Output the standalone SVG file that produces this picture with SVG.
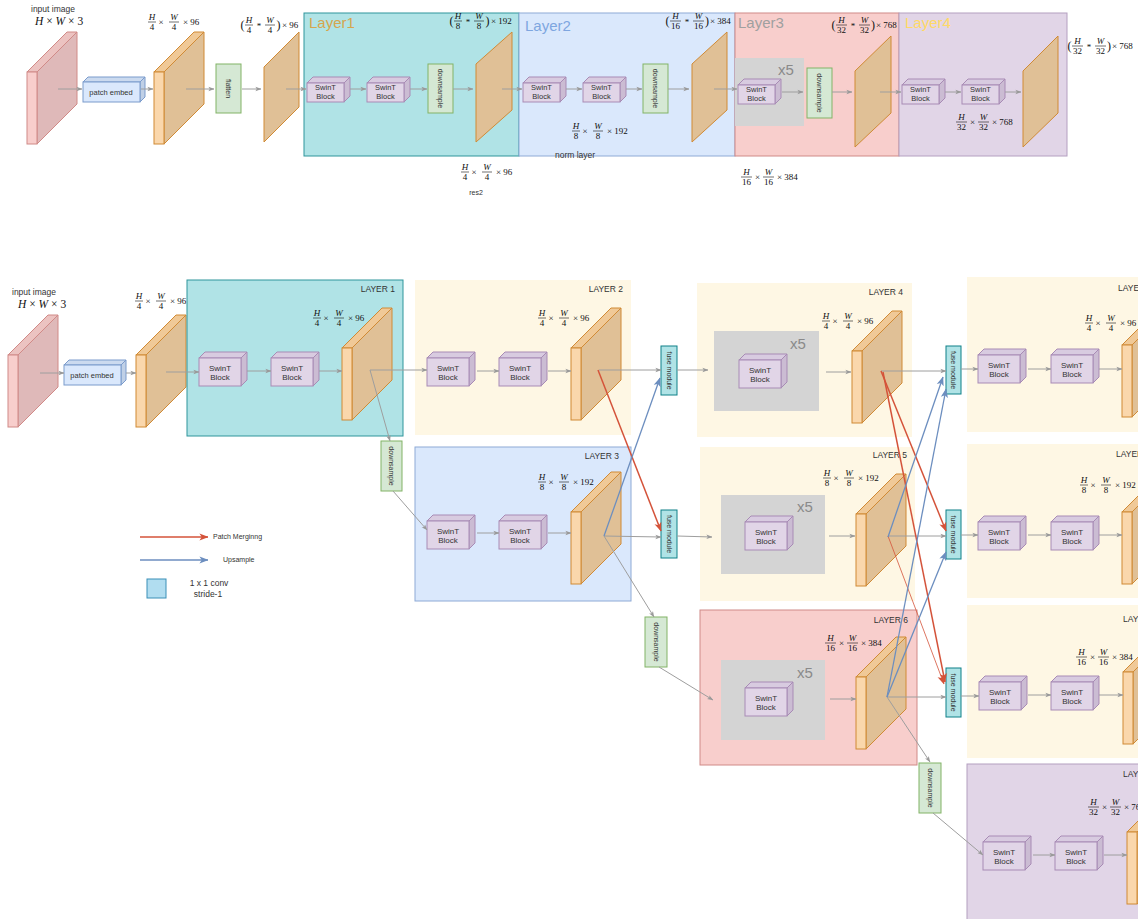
<svg xmlns="http://www.w3.org/2000/svg" xmlns:xlink="http://www.w3.org/1999/xlink" width="1138" height="919" viewBox="0 0 1138 919">
<style>
  .sans{font-family:"Liberation Sans",Arial,sans-serif;fill:#333}
  .lbl{font-family:"Liberation Sans",Arial,sans-serif;font-size:8.5px;fill:#333}
  .bt{font-family:"Liberation Sans",Arial,sans-serif;font-size:8px;fill:#333;text-anchor:middle}
  .bts{font-family:"Liberation Sans",Arial,sans-serif;font-size:7.5px;fill:#333;text-anchor:middle}
  .vt{font-family:"Liberation Sans",Arial,sans-serif;font-size:7px;fill:#333;text-anchor:middle}
  .lay{font-family:"Liberation Sans",Arial,sans-serif;font-size:8.5px;fill:#333;text-anchor:end}
  .layc{font-family:"Liberation Sans",Arial,sans-serif;font-size:8.5px;fill:#333}
  .title{font-family:"Liberation Sans",Arial,sans-serif;font-size:15px}
  .x5{font-family:"Liberation Sans",Arial,sans-serif;font-size:15px;fill:#8a8a8a}
  .m text{font-family:"Liberation Serif","Times New Roman",serif;font-size:9px;fill:#111;text-anchor:middle}
  .m .i{font-style:italic}
  .m .p{font-size:12px}
  .m path{stroke:#111;stroke-width:0.6;fill:none}
  .mm{font-family:"Liberation Serif","Times New Roman",serif;font-size:11.5px;fill:#111}
  .green{fill:#d5e8d4;stroke:#82b366;stroke-width:1}
  .fuse{fill:#b0e3e6;stroke:#0e8088;stroke-width:1}
  .gray{fill:#d4d4d4}
  .cream{fill:#fef7e4}
  .flat{fill:#e0c096;stroke:#d08a35;stroke-width:1}
  .conn path{fill:none;stroke:#9e9e9e;stroke-width:1}
  .conn path.red{stroke:#d4533a;stroke-width:1.5}
  .conn path.redt{stroke:#d4533a;stroke-width:0.8}
  .conn path.blue{stroke:#6c8ebf;stroke-width:1.3}
</style>
<defs>
  <marker id="ag" viewBox="0 0 8 8" refX="7.5" refY="4" markerWidth="6" markerHeight="6" markerUnits="userSpaceOnUse" orient="auto">
    <path d="M0,1 L8,4 L0,7 L2,4Z" fill="#9a9a9a"/>
  </marker>
  <marker id="ar" viewBox="0 0 10 10" refX="9.5" refY="5" markerWidth="9" markerHeight="9" markerUnits="userSpaceOnUse" orient="auto">
    <path d="M0,1 L10,5 L0,9 L2.5,5Z" fill="#d4533a"/>
  </marker>
  <marker id="ab" viewBox="0 0 10 10" refX="9.5" refY="5" markerWidth="9" markerHeight="9" markerUnits="userSpaceOnUse" orient="auto">
    <path d="M0,1 L10,5 L0,9 L2.5,5Z" fill="#6c8ebf"/>
  </marker>
  <!-- feature map slab: thin front face, deep side -->
  <g id="slabO">
    <path d="M0,0 L40,-40 L50,-40 L10,0Z" fill="#f0c997" stroke="#d08a35" stroke-width="1"/>
    <path d="M10,0 L50,-40 L50,32 L10,72Z" fill="#e0c096" stroke="#d08a35" stroke-width="1"/>
    <rect x="0" y="0" width="10" height="72" fill="#fad7ac" stroke="#d08a35" stroke-width="1"/>
  </g>
  <g id="slabR">
    <path d="M0,0 L40,-40 L50,-40 L10,0Z" fill="#ecc3c1" stroke="#d08a87" stroke-width="1"/>
    <path d="M10,0 L50,-40 L50,32 L10,72Z" fill="#dfb9b9" stroke="#d08a87" stroke-width="1"/>
    <rect x="0" y="0" width="10" height="72" fill="#f8cecc" stroke="#d08a87" stroke-width="1"/>
  </g>
  <!-- transformer block cubes -->
  <g id="blkS">
    <path d="M0,6 L6,0 L43,0 L37,6Z" fill="#d8cbe0" stroke="#a88bb5" stroke-width="1"/>
    <path d="M37,6 L43,0 L43,19 L37,25Z" fill="#cbbcd3" stroke="#a88bb5" stroke-width="1"/>
    <rect x="0" y="6" width="37" height="19" fill="#e1d5e7" stroke="#a88bb5" stroke-width="1"/>
  </g>
  <g id="blkL">
    <path d="M0,6 L6,0 L48,0 L42,6Z" fill="#d8cbe0" stroke="#a88bb5" stroke-width="1"/>
    <path d="M42,6 L48,0 L48,28 L42,34Z" fill="#cbbcd3" stroke="#a88bb5" stroke-width="1"/>
    <rect x="0" y="6" width="42" height="28" fill="#e1d5e7" stroke="#a88bb5" stroke-width="1"/>
  </g>
  <g id="embed">
    <path d="M0,5 L5,0 L62,0 L57,5Z" fill="#cbdaef" stroke="#7b9bcc" stroke-width="1"/>
    <path d="M57,5 L62,0 L62,20 L57,25Z" fill="#c0d0e6" stroke="#7b9bcc" stroke-width="1"/>
    <rect x="0" y="5" width="57" height="20" fill="#dae8fc" stroke="#7b9bcc" stroke-width="1"/>
  </g>
</defs>

<rect width="1138" height="919" fill="#ffffff"/>

<!-- ===================== upper pipeline ===================== -->
<g id="top-input">
  <text class="lbl" x="31" y="12">input image</text>
  <text class="mm" x="35" y="25"><tspan font-style="italic">H</tspan> × <tspan font-style="italic">W</tspan> × 3</text>
  <use href="#slabR" x="27" y="72"/>
</g>
<g id="top-embed">
  <use href="#embed" x="83" y="77"/>
  <text class="bts" x="111" y="94.5">patch embed</text>
</g>
<g id="top-feat">
  <use href="#slabO" x="154" y="72"/>
  <g class="m" transform="translate(148,22)"><text><tspan class="i" x="4" y="-2">H</tspan><tspan x="4" y="7.5">4</tspan><tspan x="13" y="2.5">×</tspan><tspan class="i" x="26" y="-2">W</tspan><tspan x="26" y="7.5">4</tspan><tspan x="43.2" y="2.5">× 96</tspan></text><path d="M0,0h8M21,0h10"/></g>
</g>
<g id="top-flatten">
  <rect class="green" x="216" y="64" width="25" height="49"/>
  <text class="vt" transform="translate(228.5,88.5) rotate(90)" y="2.5">flatten</text>
</g>
<g id="top-tokens">
  <path class="flat" d="M264,67 L299,32 L299,107 L264,142Z"/>
  <g class="m" transform="translate(241,25)"><text><tspan class="p" x="1.5" y="4">(</tspan><tspan class="i" x="8" y="-2">H</tspan><tspan x="8" y="7.5">4</tspan><tspan x="18" y="4">*</tspan><tspan class="i" x="29" y="-2">W</tspan><tspan x="29" y="7.5">4</tspan><tspan class="p" x="37.5" y="4">)</tspan><tspan x="49.2" y="2.5">× 96</tspan></text><path d="M4,0h8M24,0h10"/></g>
</g>

<g id="top-layer1">
  <rect x="304" y="13" width="215" height="143" fill="#b0e3e6" stroke="#2f959b" stroke-width="1"/>
  <text class="title" x="309" y="28" fill="#d6a64f">Layer1</text>
  <g transform="translate(307,77)"><use href="#blkS"/><text class="bts" x="18.5" y="13">SwinT</text><text class="bts" x="18.5" y="22">Block</text></g>
  <g transform="translate(367,77)"><use href="#blkS"/><text class="bts" x="18.5" y="13">SwinT</text><text class="bts" x="18.5" y="22">Block</text></g>
  <rect class="green" x="428" y="64" width="25" height="49"/>
  <text class="vt" transform="translate(440.5,88.5) rotate(90)" y="2.5">downsample</text>
  <path class="flat" d="M476,64 L512,32 L512,110 L476,142Z"/>
  <g class="m" transform="translate(450,21)"><text><tspan class="p" x="1.5" y="4">(</tspan><tspan class="i" x="8" y="-2">H</tspan><tspan x="8" y="7.5">8</tspan><tspan x="18" y="4">*</tspan><tspan class="i" x="29" y="-2">W</tspan><tspan x="29" y="7.5">8</tspan><tspan class="p" x="37.5" y="4">)</tspan><tspan x="51.4" y="2.5">× 192</tspan></text><path d="M4,0h8M24,0h10"/></g>
</g>

<g id="top-layer2">
  <rect x="519" y="13" width="216" height="143" fill="#dae8fc" stroke="#8eaad6" stroke-width="1"/>
  <text class="title" x="525" y="31" fill="#7ea6e0">Layer2</text>
  <g transform="translate(523,77)"><use href="#blkS"/><text class="bts" x="18.5" y="13">SwinT</text><text class="bts" x="18.5" y="22">Block</text></g>
  <g transform="translate(583,77)"><use href="#blkS"/><text class="bts" x="18.5" y="13">SwinT</text><text class="bts" x="18.5" y="22">Block</text></g>
  <rect class="green" x="643" y="64" width="25" height="49"/>
  <text class="vt" transform="translate(655.5,88.5) rotate(90)" y="2.5">downsample</text>
  <path class="flat" d="M692,64 L727,32 L727,110 L692,142Z"/>
  <g class="m" transform="translate(666,21)"><text><tspan class="p" x="1.5" y="4">(</tspan><tspan class="i" x="9.5" y="-2">H</tspan><tspan x="9.5" y="7.5">16</tspan><tspan x="21" y="4">*</tspan><tspan class="i" x="32.5" y="-2">W</tspan><tspan x="32.5" y="7.5">16</tspan><tspan class="p" x="41" y="4">)</tspan><tspan x="54.4" y="2.5">× 384</tspan></text><path d="M4,0h11M27,0h11"/></g>
  <g class="m" transform="translate(572,131)"><text><tspan class="i" x="4" y="-2">H</tspan><tspan x="4" y="7.5">8</tspan><tspan x="13" y="2.5">×</tspan><tspan class="i" x="26" y="-2">W</tspan><tspan x="26" y="7.5">8</tspan><tspan x="45.4" y="2.5">× 192</tspan></text><path d="M0,0h8M21,0h10"/></g>
  <text class="lbl" x="575" y="158" text-anchor="middle">norm layer</text>
</g>

<g id="top-layer3">
  <rect x="735" y="13" width="164" height="143" fill="#f8cecc" stroke="#d08a87" stroke-width="1"/>
  <rect class="gray" x="735" y="58" width="69" height="68"/>
  <text class="title" x="738" y="28" fill="#a0a0a0">Layer3</text>
  <text class="x5" x="778" y="75">x5</text>
  <g transform="translate(738,79)"><use href="#blkS"/><text class="bts" x="18.5" y="13">SwinT</text><text class="bts" x="18.5" y="22">Block</text></g>
  <rect class="green" x="807" y="68" width="25" height="50"/>
  <text class="vt" transform="translate(819.5,93) rotate(90)" y="2.5">downsample</text>
  <path class="flat" d="M855,71 L891,36 L891,113 L855,147Z"/>
  <g class="m" transform="translate(832,25)"><text><tspan class="p" x="1.5" y="4">(</tspan><tspan class="i" x="9.5" y="-2">H</tspan><tspan x="9.5" y="7.5">32</tspan><tspan x="21" y="4">*</tspan><tspan class="i" x="32.5" y="-2">W</tspan><tspan x="32.5" y="7.5">32</tspan><tspan class="p" x="41" y="4">)</tspan><tspan x="54.4" y="2.5">× 768</tspan></text><path d="M4,0h11M27,0h11"/></g>
</g>

<g id="top-layer4">
  <rect x="899" y="13" width="168" height="143" fill="#e1d5e7" stroke="#b49fc0" stroke-width="1"/>
  <text class="title" x="905" y="28" fill="#ffd966">Layer4</text>
  <g transform="translate(902,79)"><use href="#blkS"/><text class="bts" x="18.5" y="13">SwinT</text><text class="bts" x="18.5" y="22">Block</text></g>
  <g transform="translate(962,79)"><use href="#blkS"/><text class="bts" x="18.5" y="13">SwinT</text><text class="bts" x="18.5" y="22">Block</text></g>
  <path class="flat" d="M1023,71 L1058,36 L1058,113 L1023,147Z"/>
  <g class="m" transform="translate(956,122)"><text><tspan class="i" x="5.5" y="-2">H</tspan><tspan x="5.5" y="7.5">32</tspan><tspan x="16.5" y="2.5">×</tspan><tspan class="i" x="27.5" y="-2">W</tspan><tspan x="27.5" y="7.5">32</tspan><tspan x="46.4" y="2.5">× 768</tspan></text><path d="M0,0h11M22,0h11"/></g>
</g>

<g id="top-out">
  <g class="m" transform="translate(1068,46)"><text><tspan class="p" x="1.5" y="4">(</tspan><tspan class="i" x="9.5" y="-2">H</tspan><tspan x="9.5" y="7.5">32</tspan><tspan x="21" y="4">*</tspan><tspan class="i" x="32.5" y="-2">W</tspan><tspan x="32.5" y="7.5">32</tspan><tspan class="p" x="41" y="4">)</tspan><tspan x="54.4" y="2.5">× 768</tspan></text><path d="M4,0h11M27,0h11"/></g>
</g>

<g id="top-res2">
  <g class="m" transform="translate(461,172)"><text><tspan class="i" x="4" y="-2">H</tspan><tspan x="4" y="7.5">4</tspan><tspan x="13" y="2.5">×</tspan><tspan class="i" x="26" y="-2">W</tspan><tspan x="26" y="7.5">4</tspan><tspan x="43.2" y="2.5">× 96</tspan></text><path d="M0,0h8M21,0h10"/></g>
  <text class="sans" x="476" y="195" font-size="7" text-anchor="middle">res2</text>
</g>
<g id="top-res4">
  <g class="m" transform="translate(741,177)"><text><tspan class="i" x="5.5" y="-2">H</tspan><tspan x="5.5" y="7.5">16</tspan><tspan x="16.5" y="2.5">×</tspan><tspan class="i" x="27.5" y="-2">W</tspan><tspan x="27.5" y="7.5">16</tspan><tspan x="46.4" y="2.5">× 384</tspan></text><path d="M0,0h11M22,0h11"/></g>
</g>

<!-- ===================== lower multi-branch pipeline ===================== -->
<g id="input">
  <text class="lbl" x="12" y="295">input image</text>
  <text class="mm" x="18" y="308"><tspan font-style="italic">H</tspan> × <tspan font-style="italic">W</tspan> × 3</text>
  <use href="#slabR" x="8" y="355"/>
</g>
<g id="patch-embed">
  <use href="#embed" x="64" y="360"/>
  <text class="bts" x="92" y="378">patch embed</text>
</g>
<g id="embed-out">
  <use href="#slabO" x="136" y="355"/>
  <g class="m" transform="translate(135,301)"><text><tspan class="i" x="4" y="-2">H</tspan><tspan x="4" y="7.5">4</tspan><tspan x="13" y="2.5">×</tspan><tspan class="i" x="26" y="-2">W</tspan><tspan x="26" y="7.5">4</tspan><tspan x="43.2" y="2.5">× 96</tspan></text><path d="M0,0h8M21,0h10"/></g>
</g>

<g id="layer1">
  <rect x="187" y="280" width="216" height="156" fill="#b0e3e6" stroke="#2f959b" stroke-width="1"/>
  <text class="lay" x="395" y="292">LAYER 1</text>
  <g transform="translate(199,352)"><use href="#blkL"/><text class="bt" x="21" y="18.5">SwinT</text><text class="bt" x="21" y="28">Block</text></g>
  <g transform="translate(271,352)"><use href="#blkL"/><text class="bt" x="21" y="18.5">SwinT</text><text class="bt" x="21" y="28">Block</text></g>
  <use href="#slabO" x="342" y="348"/>
  <g class="m" transform="translate(313,318)"><text><tspan class="i" x="4" y="-2">H</tspan><tspan x="4" y="7.5">4</tspan><tspan x="13" y="2.5">×</tspan><tspan class="i" x="26" y="-2">W</tspan><tspan x="26" y="7.5">4</tspan><tspan x="43.2" y="2.5">× 96</tspan></text><path d="M0,0h8M21,0h10"/></g>
</g>

<g id="layer2">
  <rect class="cream" x="415" y="280" width="216" height="155"/>
  <text class="lay" x="623" y="292">LAYER 2</text>
  <g transform="translate(427,352)"><use href="#blkL"/><text class="bt" x="21" y="18.5">SwinT</text><text class="bt" x="21" y="28">Block</text></g>
  <g transform="translate(499,352)"><use href="#blkL"/><text class="bt" x="21" y="18.5">SwinT</text><text class="bt" x="21" y="28">Block</text></g>
  <use href="#slabO" x="571" y="348"/>
  <g class="m" transform="translate(538,318)"><text><tspan class="i" x="4" y="-2">H</tspan><tspan x="4" y="7.5">4</tspan><tspan x="13" y="2.5">×</tspan><tspan class="i" x="26" y="-2">W</tspan><tspan x="26" y="7.5">4</tspan><tspan x="43.2" y="2.5">× 96</tspan></text><path d="M0,0h8M21,0h10"/></g>
</g>

<g id="layer3">
  <rect x="415" y="447" width="216" height="154" fill="#dae8fc" stroke="#8eaad6" stroke-width="1"/>
  <text class="lay" x="619" y="459">LAYER 3</text>
  <g transform="translate(427,515)"><use href="#blkL"/><text class="bt" x="21" y="18.5">SwinT</text><text class="bt" x="21" y="28">Block</text></g>
  <g transform="translate(499,515)"><use href="#blkL"/><text class="bt" x="21" y="18.5">SwinT</text><text class="bt" x="21" y="28">Block</text></g>
  <use href="#slabO" x="571" y="512"/>
  <g class="m" transform="translate(538,482)"><text><tspan class="i" x="4" y="-2">H</tspan><tspan x="4" y="7.5">8</tspan><tspan x="13" y="2.5">×</tspan><tspan class="i" x="26" y="-2">W</tspan><tspan x="26" y="7.5">8</tspan><tspan x="45.4" y="2.5">× 192</tspan></text><path d="M0,0h8M21,0h10"/></g>
</g>

<g id="downsample-1">
  <rect class="green" x="381" y="441" width="21" height="50"/>
  <text class="vt" transform="translate(391.5,466) rotate(90)" y="2.5">downsample</text>
</g>
<g id="downsample-2">
  <rect class="green" x="645" y="617" width="22" height="50"/>
  <text class="vt" transform="translate(656,642) rotate(90)" y="2.5">downsample</text>
</g>
<g id="downsample-3">
  <rect class="green" x="919" y="763" width="22" height="50"/>
  <text class="vt" transform="translate(930,788) rotate(90)" y="2.5">downsample</text>
</g>

<g id="fuse-1">
  <rect class="fuse" x="661" y="346" width="16" height="49"/>
  <text class="vt" transform="translate(669,370.5) rotate(90)" y="2.5">fuse module</text>
</g>
<g id="fuse-2">
  <rect class="fuse" x="661" y="510" width="16" height="48"/>
  <text class="vt" transform="translate(669,534) rotate(90)" y="2.5">fuse module</text>
</g>

<g id="layer4">
  <rect class="cream" x="697" y="283" width="215" height="154"/>
  <text class="lay" x="903" y="295">LAYER 4</text>
  <rect class="gray" x="714" y="331" width="105" height="80"/>
  <text class="x5" x="790" y="349">x5</text>
  <g transform="translate(739,354)"><use href="#blkL"/><text class="bt" x="21" y="18.5">SwinT</text><text class="bt" x="21" y="28">Block</text></g>
  <use href="#slabO" x="852" y="351"/>
  <g class="m" transform="translate(822,321)"><text><tspan class="i" x="4" y="-2">H</tspan><tspan x="4" y="7.5">4</tspan><tspan x="13" y="2.5">×</tspan><tspan class="i" x="26" y="-2">W</tspan><tspan x="26" y="7.5">4</tspan><tspan x="43.2" y="2.5">× 96</tspan></text><path d="M0,0h8M21,0h10"/></g>
</g>

<g id="layer5">
  <rect class="cream" x="700" y="447" width="215" height="154"/>
  <text class="lay" x="907" y="458">LAYER 5</text>
  <rect class="gray" x="721" y="495" width="104" height="79"/>
  <text class="x5" x="797" y="512">x5</text>
  <g transform="translate(745,516)"><use href="#blkL"/><text class="bt" x="21" y="18.5">SwinT</text><text class="bt" x="21" y="28">Block</text></g>
  <use href="#slabO" x="856" y="514"/>
  <g class="m" transform="translate(823,478)"><text><tspan class="i" x="4" y="-2">H</tspan><tspan x="4" y="7.5">8</tspan><tspan x="13" y="2.5">×</tspan><tspan class="i" x="26" y="-2">W</tspan><tspan x="26" y="7.5">8</tspan><tspan x="45.4" y="2.5">× 192</tspan></text><path d="M0,0h8M21,0h10"/></g>
</g>

<g id="layer6">
  <rect x="700" y="610" width="217" height="155" fill="#f8cecc" stroke="#d08a87" stroke-width="1"/>
  <text class="lay" x="908" y="623">LAYER 6</text>
  <rect class="gray" x="721" y="660" width="104" height="80"/>
  <text class="x5" x="797" y="678">x5</text>
  <g transform="translate(745,682)"><use href="#blkL"/><text class="bt" x="21" y="18.5">SwinT</text><text class="bt" x="21" y="28">Block</text></g>
  <use href="#slabO" x="856" y="677"/>
  <g class="m" transform="translate(825,643)"><text><tspan class="i" x="5.5" y="-2">H</tspan><tspan x="5.5" y="7.5">16</tspan><tspan x="16.5" y="2.5">×</tspan><tspan class="i" x="27.5" y="-2">W</tspan><tspan x="27.5" y="7.5">16</tspan><tspan x="46.4" y="2.5">× 384</tspan></text><path d="M0,0h11M22,0h11"/></g>
</g>

<g id="fuse-3">
  <rect class="fuse" x="946" y="346" width="15" height="48"/>
  <text class="vt" transform="translate(953.5,370) rotate(90)" y="2.5">fuse module</text>
</g>
<g id="fuse-4">
  <rect class="fuse" x="946" y="510" width="15" height="49"/>
  <text class="vt" transform="translate(953.5,534.5) rotate(90)" y="2.5">fuse module</text>
</g>
<g id="fuse-5">
  <rect class="fuse" x="946" y="668" width="15" height="49"/>
  <text class="vt" transform="translate(953.5,692.5) rotate(90)" y="2.5">fuse module</text>
</g>

<g id="layer7">
  <rect class="cream" x="967" y="277" width="180" height="155"/>
  <text class="layc" x="1118" y="291">LAYER</text>
  <g transform="translate(978,349)"><use href="#blkL"/><text class="bt" x="21" y="18.5">SwinT</text><text class="bt" x="21" y="28">Block</text></g>
  <g transform="translate(1051,349)"><use href="#blkL"/><text class="bt" x="21" y="18.5">SwinT</text><text class="bt" x="21" y="28">Block</text></g>
  <use href="#slabO" x="1122" y="345"/>
  <g class="m" transform="translate(1085,323)"><text><tspan class="i" x="4" y="-2">H</tspan><tspan x="4" y="7.5">4</tspan><tspan x="13" y="2.5">×</tspan><tspan class="i" x="26" y="-2">W</tspan><tspan x="26" y="7.5">4</tspan><tspan x="43.2" y="2.5">× 96</tspan></text><path d="M0,0h8M21,0h10"/></g>
</g>

<g id="layer8">
  <rect class="cream" x="967" y="444" width="180" height="154"/>
  <text class="layc" x="1116" y="457">LAYER</text>
  <g transform="translate(978,516)"><use href="#blkL"/><text class="bt" x="21" y="18.5">SwinT</text><text class="bt" x="21" y="28">Block</text></g>
  <g transform="translate(1051,516)"><use href="#blkL"/><text class="bt" x="21" y="18.5">SwinT</text><text class="bt" x="21" y="28">Block</text></g>
  <use href="#slabO" x="1122" y="512"/>
  <g class="m" transform="translate(1080,485)"><text><tspan class="i" x="4" y="-2">H</tspan><tspan x="4" y="7.5">8</tspan><tspan x="13" y="2.5">×</tspan><tspan class="i" x="26" y="-2">W</tspan><tspan x="26" y="7.5">8</tspan><tspan x="45.4" y="2.5">× 192</tspan></text><path d="M0,0h8M21,0h10"/></g>
</g>

<g id="layer9">
  <rect class="cream" x="967" y="605" width="180" height="153"/>
  <text class="layc" x="1123" y="622">LAYER</text>
  <g transform="translate(979,676)"><use href="#blkL"/><text class="bt" x="21" y="18.5">SwinT</text><text class="bt" x="21" y="28">Block</text></g>
  <g transform="translate(1051,676)"><use href="#blkL"/><text class="bt" x="21" y="18.5">SwinT</text><text class="bt" x="21" y="28">Block</text></g>
  <use href="#slabO" x="1123" y="672"/>
  <g class="m" transform="translate(1076,657)"><text><tspan class="i" x="5.5" y="-2">H</tspan><tspan x="5.5" y="7.5">16</tspan><tspan x="16.5" y="2.5">×</tspan><tspan class="i" x="27.5" y="-2">W</tspan><tspan x="27.5" y="7.5">16</tspan><tspan x="46.4" y="2.5">× 384</tspan></text><path d="M0,0h11M22,0h11"/></g>
</g>

<g id="layer10">
  <rect x="967" y="764" width="180" height="160" fill="#e1d5e7" stroke="#b49fc0" stroke-width="1"/>
  <text class="layc" x="1123" y="777">LAYER</text>
  <g transform="translate(983,836)"><use href="#blkL"/><text class="bt" x="21" y="18.5">SwinT</text><text class="bt" x="21" y="28">Block</text></g>
  <g transform="translate(1055,836)"><use href="#blkL"/><text class="bt" x="21" y="18.5">SwinT</text><text class="bt" x="21" y="28">Block</text></g>
  <use href="#slabO" x="1127" y="832"/>
  <g class="m" transform="translate(1088,807)"><text><tspan class="i" x="5.5" y="-2">H</tspan><tspan x="5.5" y="7.5">32</tspan><tspan x="16.5" y="2.5">×</tspan><tspan class="i" x="27.5" y="-2">W</tspan><tspan x="27.5" y="7.5">32</tspan><tspan x="46.4" y="2.5">× 768</tspan></text><path d="M0,0h11M22,0h11"/></g>
</g>

<g id="legend">
  <text class="sans" x="213" y="539" font-size="7">Patch Merginng</text>
  <text class="sans" x="223" y="562" font-size="7">Upsample</text>
  <rect x="147" y="579" width="19" height="19" fill="#b1ddf0" stroke="#3a8fb7" stroke-width="1"/>
  <text class="sans" x="209" y="586" font-size="8.5" text-anchor="middle">1 x 1 conv</text>
  <text class="sans" x="208" y="597" font-size="8.5" text-anchor="middle">stride-1</text>
</g>

<!-- ===================== connectors ===================== -->
<g id="connectors" class="conn">
  <!-- upper pipeline -->
  <path d="M58,89H82" marker-end="url(#ag)"/>
  <path d="M141,89H153" marker-end="url(#ag)"/>
  <path d="M186,89H214" marker-end="url(#ag)"/>
  <path d="M242,89H261" marker-end="url(#ag)"/>
  <path d="M286,89H306" marker-end="url(#ag)"/>
  <path d="M350,89H366" marker-end="url(#ag)"/>
  <path d="M410,89H427" marker-end="url(#ag)"/>
  <path d="M453,89H473" marker-end="url(#ag)"/>
  <path d="M502,89H522" marker-end="url(#ag)"/>
  <path d="M566,89H582" marker-end="url(#ag)"/>
  <path d="M626,89H642" marker-end="url(#ag)"/>
  <path d="M668,89H689" marker-end="url(#ag)"/>
  <path d="M714,89H737" marker-end="url(#ag)"/>
  <path d="M782,92H803" marker-end="url(#ag)"/>
  <path d="M832,92H852" marker-end="url(#ag)"/>
  <path d="M880,92H901" marker-end="url(#ag)"/>
  <path d="M945,92H961" marker-end="url(#ag)"/>
  <path d="M1005,92H1021" marker-end="url(#ag)"/>

  <!-- lower pipeline: main flow -->
  <path d="M40,373H64" marker-end="url(#ag)"/>
  <path d="M126,373H136" marker-end="url(#ag)"/>
  <path d="M166,372H199" marker-end="url(#ag)"/>
  <path d="M247,371H271" marker-end="url(#ag)"/>
  <path d="M319,371H342" marker-end="url(#ag)"/>
  <path d="M370,370H427" marker-end="url(#ag)"/>
  <path d="M370,370L390,441" marker-end="url(#ag)"/>
  <path d="M393,491L427,530" marker-end="url(#ag)"/>
  <path d="M477,371H499" marker-end="url(#ag)"/>
  <path d="M548,371H571" marker-end="url(#ag)"/>
  <path d="M599,370H661" marker-end="url(#ag)"/>
  <path d="M477,533H499" marker-end="url(#ag)"/>
  <path d="M548,533H571" marker-end="url(#ag)"/>
  <path d="M604,536L661,537" marker-end="url(#ag)"/>
  <path d="M604,536L654,617" marker-end="url(#ag)"/>
  <path d="M659,667L713,700" marker-end="url(#ag)"/>
  <path d="M677,370H708" marker-end="url(#ag)"/>
  <path d="M826,372H851" marker-end="url(#ag)"/>
  <path d="M881,371H946" marker-end="url(#ag)"/>
  <path d="M677,536L712,537" marker-end="url(#ag)"/>
  <path d="M829,536H855" marker-end="url(#ag)"/>
  <path d="M888,536H946" marker-end="url(#ag)"/>
  <path d="M830,699H856" marker-end="url(#ag)"/>
  <path d="M887,697H946" marker-end="url(#ag)"/>
  <path d="M887,697L930,762" marker-end="url(#ag)"/>
  <path d="M933,813L983,855" marker-end="url(#ag)"/>
  <path d="M961,369H978" marker-end="url(#ag)"/>
  <path d="M1028,369H1051" marker-end="url(#ag)"/>
  <path d="M1099,369H1122" marker-end="url(#ag)"/>
  <path d="M961,535H978" marker-end="url(#ag)"/>
  <path d="M1028,535H1051" marker-end="url(#ag)"/>
  <path d="M1099,535H1122" marker-end="url(#ag)"/>
  <path d="M961,696H979" marker-end="url(#ag)"/>
  <path d="M1028,695H1051" marker-end="url(#ag)"/>
  <path d="M1099,695H1123" marker-end="url(#ag)"/>
  <path d="M1033,855H1055" marker-end="url(#ag)"/>
  <path d="M1104,855H1127" marker-end="url(#ag)"/>

  <!-- cross-scale exchange -->
  <path class="red" d="M598,370L661,531" marker-end="url(#ar)"/>
  <path class="red" d="M881,371L946,531" marker-end="url(#ar)"/>
  <path class="red" d="M883,372L945,682" marker-end="url(#ar)"/>
  <path class="redt" d="M888,536L944,684" marker-end="url(#ar)"/>
  <path class="blue" d="M604,536L660,378" marker-end="url(#ab)"/>
  <path class="blue" d="M888,537L943,377" marker-end="url(#ab)"/>
  <path class="blue" d="M887,697L946,389" marker-end="url(#ab)"/>
  <path class="blue" d="M887,697L946,552" marker-end="url(#ab)"/>

  <!-- legend arrows -->
  <path class="red" d="M140,537H208" marker-end="url(#ar)"/>
  <path class="blue" d="M140,560H208" marker-end="url(#ab)"/>
</g>
</svg>
